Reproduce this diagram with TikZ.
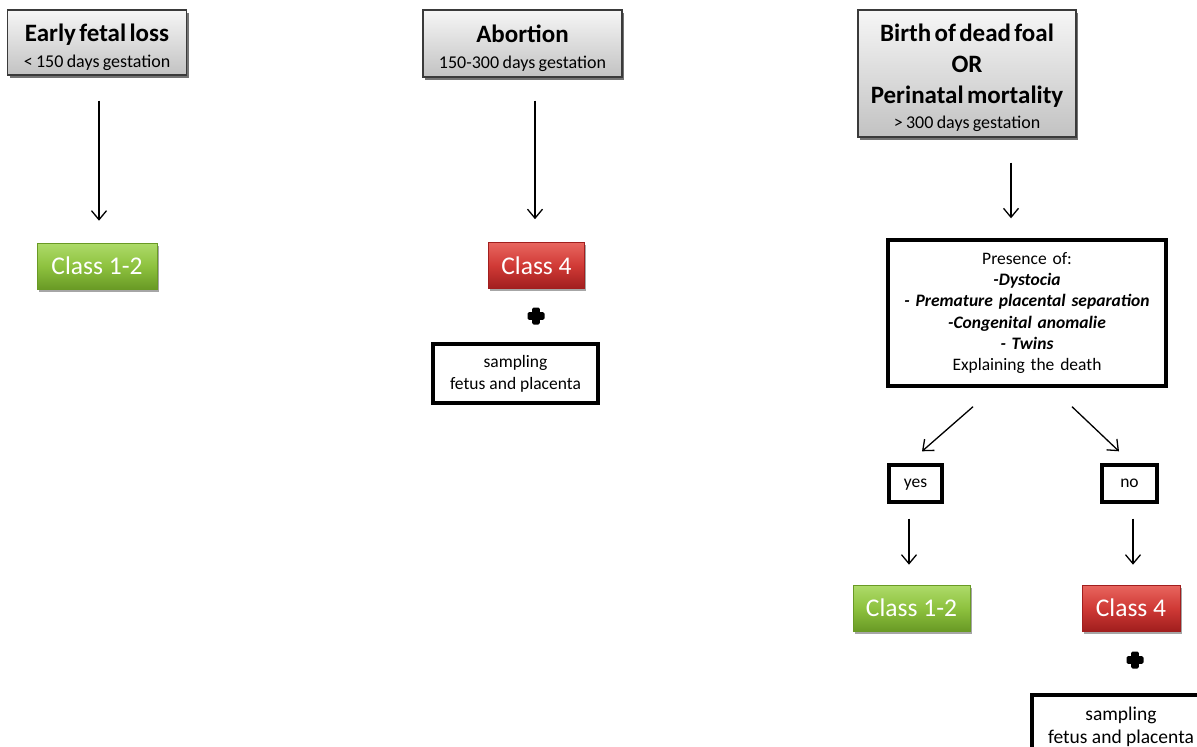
\documentclass[tikz,border=0pt]{standalone}
\usepackage{fontspec}
\setmainfont{Carlito}
\usetikzlibrary{arrows.meta,shadows,calc}

\definecolor{hdtop}{HTML}{F6F6F6}
\definecolor{hdbot}{HTML}{C2C2C2}
\definecolor{hdborder}{HTML}{3A3A3A}
\definecolor{grtop}{HTML}{AEDB6A}
\definecolor{grmid}{HTML}{8EC23F}
\definecolor{grbot}{HTML}{699A25}
\definecolor{rdtop}{HTML}{E8665F}
\definecolor{rdmid}{HTML}{D03A36}
\definecolor{rdbot}{HTML}{A11E1E}

\begin{document}
\begin{tikzpicture}[x=1pt,y=-1pt,
  header/.style={draw=hdborder, line width=1.3pt, top color=hdtop, bottom color=hdbot,
    drop shadow={shadow xshift=2pt,shadow yshift=-2.5pt,opacity=0.55,fill=black},
    align=center, inner sep=0pt},
  classbox/.style={inner sep=0pt, minimum height=46pt, text=white,
    font=\fontsize{25.5}{30}\selectfont, line width=0.6pt,
    drop shadow={shadow xshift=1.5pt,shadow yshift=-2.5pt,opacity=0.35,fill=black}},
  greenbox/.style={classbox, draw=grbot, top color=grtop, bottom color=grbot, middle color=grmid},
  redbox/.style={classbox, draw=rdbot, top color=rdtop, bottom color=rdbot, middle color=rdmid},
  outbox/.style={draw=black, line width=3.4pt, fill=white, align=center, inner sep=0pt,
    font=\fontsize{17.5}{22}\selectfont},
  answer/.style={outbox, minimum height=37pt, text height=12pt, text depth=3.8pt},
  plusmark/.style={minimum size=18pt, inner sep=0pt,
    path picture={
      \fill[black,rounded corners=1.5pt] ($(path picture bounding box.center)+(-8.5,-3.8)$) rectangle +(17,7.6);
      \fill[black,rounded corners=1.5pt] ($(path picture bounding box.center)+(-3.8,-8.5)$) rectangle +(7.6,17);
    }},
  arr/.style={line width=1.3pt, -{Straight Barb[length=9pt,width=15pt,line width=1.3pt]}}
]
\useasboundingbox (0,0) rectangle (1197,747);
\clip (0,0) rectangle (1197,747);

% header boxes
\node[header, minimum width=179pt, minimum height=65pt, text width=175pt] (early) at (97,42.5)
  {{\fontsize{25}{30}\selectfont\bfseries\rule{0pt}{28pt}Early fetal loss\par}{\fontsize{18}{26}\selectfont < 150 days gestation\par}};
\node[header, minimum width=199pt, minimum height=67pt, text width=195pt] (abort) at (522.5,43.5)
  {{\fontsize{25}{30}\selectfont\bfseries\rule{0pt}{28pt}Abortion\par}{\fontsize{18}{26}\selectfont 150-300 days gestation\par}};
\node[header, minimum width=218pt, minimum height=127pt, text width=214pt] (birth) at (967,73.5)
  {{\fontsize{25}{31}\selectfont\bfseries\rule{0pt}{25.5pt}Birth of dead foal\par OR\par Perinatal mortality\par}{\fontsize{18}{25}\selectfont > 300 days gestation\par}};

% class boxes
\node[greenbox, minimum width=120pt] (cl1) at (97,266) {Class 1-2};
\node[redbox, minimum width=96pt] (cl4a) at (536.5,265.5) {Class 4};
\node[greenbox, minimum width=117pt] (cl12b) at (911.5,608) {Class 1-2};
\node[redbox, minimum width=98pt] (cl4b) at (1131,608) {Class 4};

% plus marks
\node[plusmark] (p1) at (536,316) {};
\node[plusmark] (p2) at (1135,660) {};

% outlined boxes
\node[outbox, minimum width=165pt, minimum height=59pt] (samp1) at (515.5,373.5)
  {sampling\\fetus and placenta};
\node[outbox, minimum width=178pt, minimum height=64pt, font=\fontsize{19.5}{23}\selectfont] (samp2) at (1121,727)
  {sampling\\fetus and placenta};
\node[outbox, minimum width=278pt, minimum height=146pt, text width=272pt, font=\fontsize{17.5}{21.3}\selectfont] (pres) at (1027,313)
  {Presence of:\par
   \textbf{\textit{-Dystocia}}\par
   \textbf{\textit{- Premature placental separation}}\par
   \textbf{\textit{-Congenital anomalie}}\par
   \textbf{\textit{- Twins}}\par
   Explaining the death\par};
\node[answer, minimum width=53pt] (yes) at (915.5,483.5) {yes};
\node[answer, minimum width=55pt] (no) at (1129.5,483.5) {no};

% connectors
\draw[arr] ([xshift=2pt,yshift=-25pt]early.south) -- ([xshift=2pt,yshift=22pt]cl1.north);
\draw[arr] ([xshift=12.5pt,yshift=-23pt]abort.south) -- ([xshift=-1.5pt,yshift=23pt]cl4a.north);
\draw[arr] ([xshift=44pt,yshift=-25pt]birth.south) -- ([xshift=-16pt,yshift=20pt]pres.north);
\draw[arr] ([xshift=-54pt,yshift=-19pt]pres.south) -- ([xshift=6.5pt,yshift=12pt]yes.north);
\draw[arr] ([xshift=45pt,yshift=-19pt]pres.south) -- ([xshift=-10.5pt,yshift=12pt]no.north);
\draw[arr] ([xshift=-6.5pt,yshift=-15pt]yes.south) -- ([xshift=-2.5pt,yshift=20pt]cl12b.north);
\draw[arr] ([xshift=3.5pt,yshift=-15pt]no.south) -- ([xshift=2pt,yshift=20pt]cl4b.north);
\end{tikzpicture}
\end{document}
